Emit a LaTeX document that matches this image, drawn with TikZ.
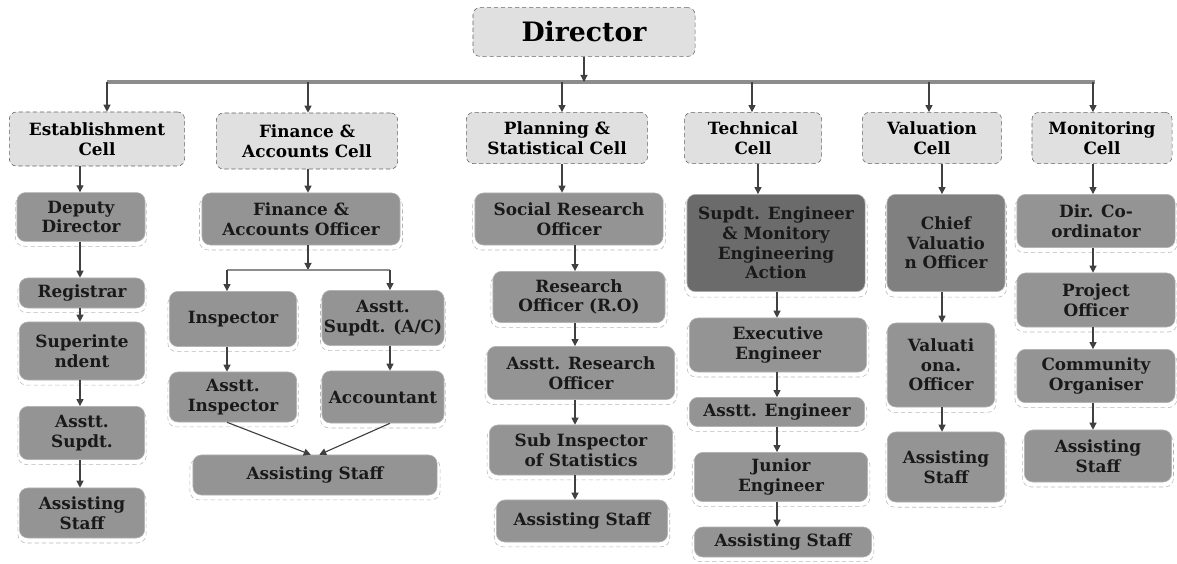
\documentclass[tikz,border=0pt]{standalone}
\usepackage{fontspec}
\setmainfont{DejaVu Serif}
\usetikzlibrary{arrows.meta,shadows}

\begin{document}
\begin{tikzpicture}[
  x=0.025cm, y=-0.025cm,
  font=\fontsize{12}{14}\selectfont\bfseries,
  cellbox/.style={draw=black!60, densely dashed, fill=black!12, rounded corners=5pt,
    align=center, inner sep=1pt},
  postbox/.style={draw=black!30, fill=black!42, rounded corners=6pt, text=black!90,
    align=center, inner sep=1pt,
    drop shadow={shadow xshift=0pt, shadow yshift=-3pt, shadow scale=1.025,
      fill=white, draw=black!55, densely dashed}},
  arr/.style={draw=black!75, line width=0.8pt, -{Triangle[width=5pt,length=5pt]}},
  bus/.style={draw=black!45, line width=3pt}]
  % 边界
  \useasboundingbox (0,0) rectangle (1177,564);

  % 主任
  \node[cellbox, minimum width=5.55cm, minimum height=1.22cm,
    font=\fontsize{19}{21}\selectfont\bfseries] (dir) at (584,32) {Director};

  % 各科室
  \node[cellbox, minimum width=4.38cm, minimum height=1.35cm] (est) at (97,139) {Establishment\\Cell};
  \node[cellbox, minimum width=4.53cm, minimum height=1.4cm] (fin) at (307,141) {Finance \&\\Accounts Cell};
  \node[cellbox, minimum width=4.53cm, minimum height=1.28cm] (pla) at (557,138) {Planning \&\\Statistical Cell};
  \node[cellbox, minimum width=3.43cm, minimum height=1.28cm] (tec) at (753,138) {Technical\\Cell};
  \node[cellbox, minimum width=3.48cm, minimum height=1.28cm] (val) at (932,138) {Valuation\\Cell};
  \node[cellbox, minimum width=3.5cm, minimum height=1.28cm] (mon) at (1102,138) {Monitoring\\Cell};

  % 总线
  \coordinate (busl) at (107,82);
  \coordinate (busr) at (1095,82);
  \draw[bus] (busl) -- (busr);
  \draw[arr] (dir.south) -- (dir.south |- busl);
  \foreach \c/\x in {est/107, fin/308, pla/562, tec/752, val/929, mon/1093} {
    \coordinate (b-\c) at (\x,82);
    \draw[arr] (b-\c) -- (b-\c |- \c.north);
  }

  % Establishment Cell
  \node[postbox, minimum width=3.2cm, minimum height=1.22cm] (est1) at (81,217) {Deputy\\Director};
  \node[postbox, minimum width=3.13cm, minimum height=0.75cm] (est2) at (82,293) {Registrar};
  \node[postbox, minimum width=3.13cm, minimum height=1.45cm] (est3) at (82,351) {Superinte\\ndent};
  \node[postbox, minimum width=3.13cm, minimum height=1.33cm] (est4) at (82,433) {Asstt.\\Supdt.};
  \node[postbox, minimum width=3.13cm, minimum height=1.25cm] (est5) at (82,513) {Assisting\\Staff};

  % Finance & Accounts Cell
  \node[postbox, minimum width=4.95cm, minimum height=1.3cm] (fin1) at (301,219) {Finance \&\\Accounts Officer};
  \node[postbox, minimum width=3.18cm, minimum height=1.38cm] (fin2) at (233,319) {Inspector};
  \node[postbox, minimum width=3.05cm, minimum height=1.38cm] (fin3) at (383,318) {Asstt.\\Supdt. (A/C)};
  \node[postbox, minimum width=3.18cm, minimum height=1.25cm] (fin4) at (233,397) {Asstt.\\Inspector};
  \node[postbox, minimum width=3.05cm, minimum height=1.3cm] (fin5) at (383,397) {Accountant};
  \node[postbox, minimum width=6.1cm, minimum height=1.0cm] (fin6) at (315,475) {Assisting Staff};

  % Planning & Statistical Cell
  \node[postbox, minimum width=4.7cm, minimum height=1.3cm] (pla1) at (569,219) {Social Research\\Officer};
  \node[postbox, minimum width=4.3cm, minimum height=1.28cm] (pla2) at (579,297) {Research\\Officer (R.O)};
  \node[postbox, minimum width=4.68cm, minimum height=1.33cm] (pla3) at (581,373) {Asstt. Research\\Officer};
  \node[postbox, minimum width=4.58cm, minimum height=1.25cm] (pla4) at (581,450) {Sub Inspector\\of Statistics};
  \node[postbox, minimum width=4.28cm, minimum height=1.05cm] (pla5) at (582,521) {Assisting Staff};

  % Technical Cell
  \node[postbox, fill=black!58, minimum width=4.45cm, minimum height=2.43cm] (tec1) at (776,243) {Supdt. Engineer\\\& Monitory\\Engineering\\Action};
  \node[postbox, minimum width=4.43cm, minimum height=1.35cm] (tec2) at (778,345) {Executive\\Engineer};
  \node[postbox, minimum width=4.38cm, minimum height=0.73cm] (tec3) at (777,412) {Asstt. Engineer};
  \node[postbox, minimum width=4.33cm, minimum height=1.23cm] (tec4) at (781,477) {Junior\\Engineer};
  \node[postbox, minimum width=4.43cm, minimum height=0.75cm] (tec5) at (783,542) {Assisting Staff};

  % Valuation Cell
  \node[postbox, fill=black!50, minimum width=2.95cm, minimum height=2.43cm] (val1) at (946,243) {Chief\\Valuatio\\n Officer};
  \node[postbox, minimum width=2.68cm, minimum height=2.1cm] (val2) at (941,365) {Valuati\\ona.\\Officer};
  \node[postbox, minimum width=2.93cm, minimum height=1.75cm] (val3) at (946,467) {Assisting\\Staff};

  % Monitoring Cell
  \node[postbox, minimum width=3.95cm, minimum height=1.33cm] (mon1) at (1096,221) {Dir. Co-\\ordinator};
  \node[postbox, minimum width=3.95cm, minimum height=1.35cm] (mon2) at (1096,300) {Project\\Officer};
  \node[postbox, minimum width=3.95cm, minimum height=1.33cm] (mon3) at (1096,376) {Community\\Organiser};
  \node[postbox, minimum width=3.68cm, minimum height=1.3cm] (mon4) at (1098,456) {Assisting\\Staff};

  % 各列竖直箭头
  \coordinate (estx) at (80,0);
  \coordinate (plax) at (575,0);
  \coordinate (tecx) at (777,0);
  \coordinate (valx) at (942,0);
  \coordinate (monx) at (1093,0);
  \draw[arr] (estx |- est.south) -- (estx |- est1.north);
  \draw[arr] (b-fin |- fin.south) -- (b-fin |- fin1.north);
  \draw[arr] (b-pla |- pla.south) -- (b-pla |- pla1.north);
  \draw[arr] (tec.south -| 758,0) -- (tec1.north -| 758,0);
  \draw[arr] (valx |- val.south) -- (valx |- val1.north);
  \draw[arr] (monx |- mon.south) -- (monx |- mon1.north);
  \foreach \a/\b in {est1/est2, est2/est3, est3/est4, est4/est5}
    \draw[arr] (estx |- \a.south) -- (estx |- \b.north);
  \foreach \a/\b in {pla1/pla2, pla2/pla3, pla3/pla4, pla4/pla5}
    \draw[arr] (plax |- \a.south) -- (plax |- \b.north);
  \foreach \a/\b in {tec1/tec2, tec2/tec3, tec3/tec4, tec4/tec5}
    \draw[arr] (tecx |- \a.south) -- (tecx |- \b.north);
  \foreach \a/\b in {val1/val2, val2/val3}
    \draw[arr] (valx |- \a.south) -- (valx |- \b.north);
  \foreach \a/\b in {mon1/mon2, mon2/mon3, mon3/mon4}
    \draw[arr] (monx |- \a.south) -- (monx |- \b.north);

  % 财务科分支
  \coordinate (fspl) at (308,270);
  \coordinate (fsl) at (227,270);
  \coordinate (fsr) at (390,270);
  \draw[arr] (fspl |- fin1.south) -- (fspl);
  \draw[draw=black!45, line width=1.2pt] (fsl) -- (fsr);
  \draw[arr] (fsl) -- (fsl |- fin2.north);
  \draw[arr] (fsr) -- (fsr |- fin3.north);
  \draw[arr] (fsl |- fin2.south) -- (fsl |- fin4.north);
  \draw[arr] (fsr |- fin3.south) -- (fsr |- fin5.north);
  \draw[arr] (fsl |- fin4.south) -- ([xshift=-3pt]fin6.north);
  \draw[arr] (fsr |- fin5.south) -- ([xshift=3pt]fin6.north);
\end{tikzpicture}
\end{document}
